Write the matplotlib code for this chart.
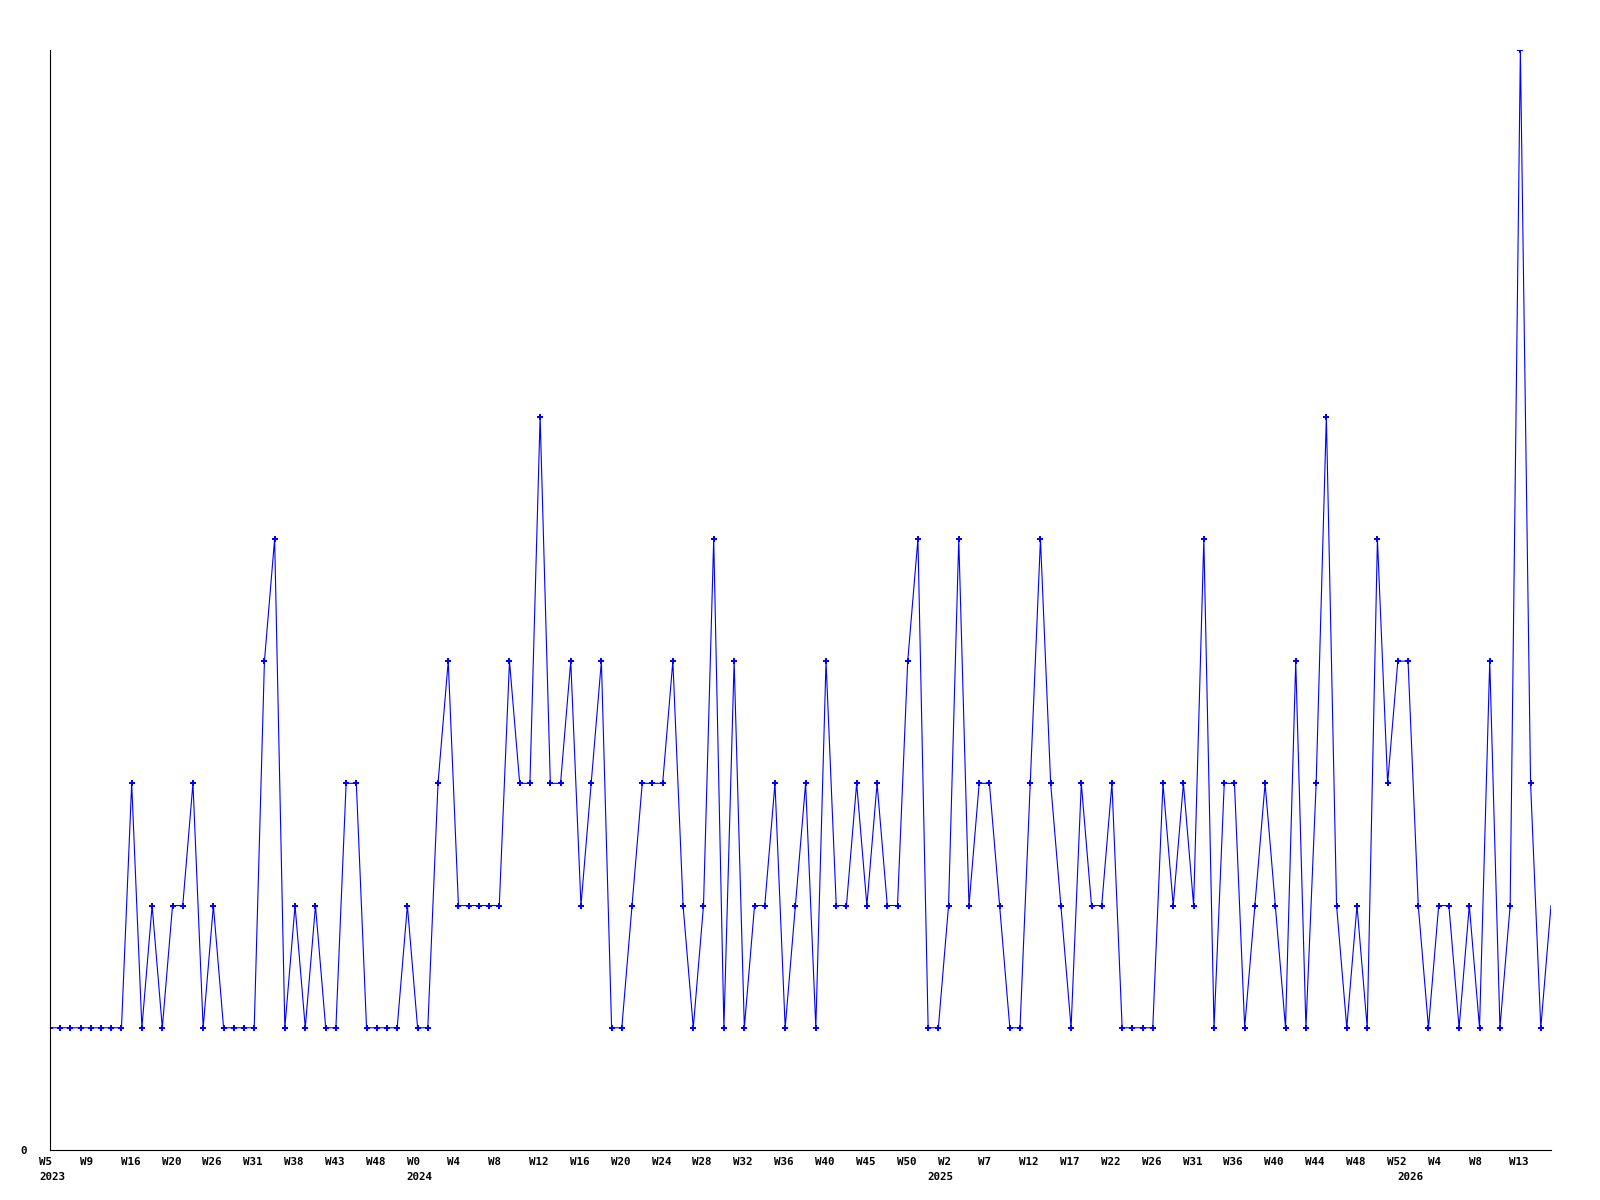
import matplotlib
matplotlib.use("Agg")
import matplotlib.pyplot as plt
import matplotlib.transforms as mtransforms

# ---- data ----
values = [
    1, 1, 1, 1, 1, 1, 1, 1, 3, 1,
    2, 1, 2, 2, 3, 1, 2, 1, 1, 1,
    1, 4, 5, 1, 2, 1, 2, 1, 1, 3,
    3, 1, 1, 1, 1, 2, 1, 1, 3, 4,
    2, 2, 2, 2, 2, 4, 3, 3, 6, 3,
    3, 4, 2, 3, 4, 1, 1, 2, 3, 3,
    3, 4, 2, 1, 2, 5, 1, 4, 1, 2,
    2, 3, 1, 2, 3, 1, 4, 2, 2, 3,
    2, 3, 2, 2, 4, 5, 1, 1, 2, 5,
    2, 3, 3, 2, 1, 1, 3, 5, 3, 2,
    1, 3, 2, 2, 3, 1, 1, 1, 1, 3,
    2, 3, 2, 5, 1, 3, 3, 1, 2, 3,
    2, 1, 4, 1, 3, 6, 2, 1, 2, 1,
    5, 3, 4, 4, 2, 1, 2, 2, 1, 2,
    1, 4, 1, 2, 9, 3, 1, 2,
]

week_labels = [
    "W5", "W9", "W16", "W20", "W26", "W31", "W38", "W43", "W48",
    "W0", "W4", "W8", "W12", "W16", "W20", "W24", "W28", "W32", "W36", "W40", "W45", "W50",
    "W2", "W7", "W12", "W17", "W22", "W26", "W31", "W36", "W40", "W44", "W48", "W52",
    "W4", "W8", "W13",
]
label_step = 4

year_labels = ["2023", "2024", "2025", "2026"]
year_start_index = [0, 36, 87, 133]

y_tick_values = [0]
y_tick_labels = ["0"]

# ---- figure ----
W, H, DPI = 1600, 1200, 100
fig = plt.figure(figsize=(W / DPI, H / DPI), dpi=DPI)
ax = fig.add_axes([50 / W, 50 / H, (1551 - 50) / W, (1150 - 50) / H])

x = list(range(len(values)))
ax.plot(x, values, color="#0000ff", linewidth=0.8,
        marker="P", markersize=3.8, markeredgewidth=0,
        markevery=list(range(len(values) - 1)))

ax.set_xlim(0, len(values) - 1)
ax.set_ylim(0, 9)

for s in ("top", "right"):
    ax.spines[s].set_visible(False)
for s in ("left", "bottom"):
    ax.spines[s].set_color("black")
    ax.spines[s].set_linewidth(0.8)

font = dict(family="DejaVu Sans Mono", weight="bold", size=7.8)

ticks = [i * label_step for i in range(len(week_labels))]
ax.set_xticks(ticks)
ax.set_xticklabels(week_labels, ha="left", **font)
ax.tick_params(axis="x", length=0, pad=5)
shift = mtransforms.ScaledTranslation(-11 / DPI, 0, fig.dpi_scale_trans)
for lbl in ax.get_xticklabels():
    lbl.set_transform(lbl.get_transform() + shift)

ax.set_yticks(y_tick_values)
ax.set_yticklabels(y_tick_labels, **font)
ax.tick_params(axis="y", length=0, pad=17)

trans = mtransforms.blended_transform_factory(ax.transData, ax.transAxes)
for yl, idx in zip(year_labels, year_start_index):
    ax.annotate(yl, xy=(idx, 0), xycoords=trans,
                xytext=(-11 * 72 / DPI, -22.5 * 72 / DPI), textcoords="offset points",
                ha="left", va="top", **font)

fig.savefig("out.png", dpi=DPI, facecolor="white")
